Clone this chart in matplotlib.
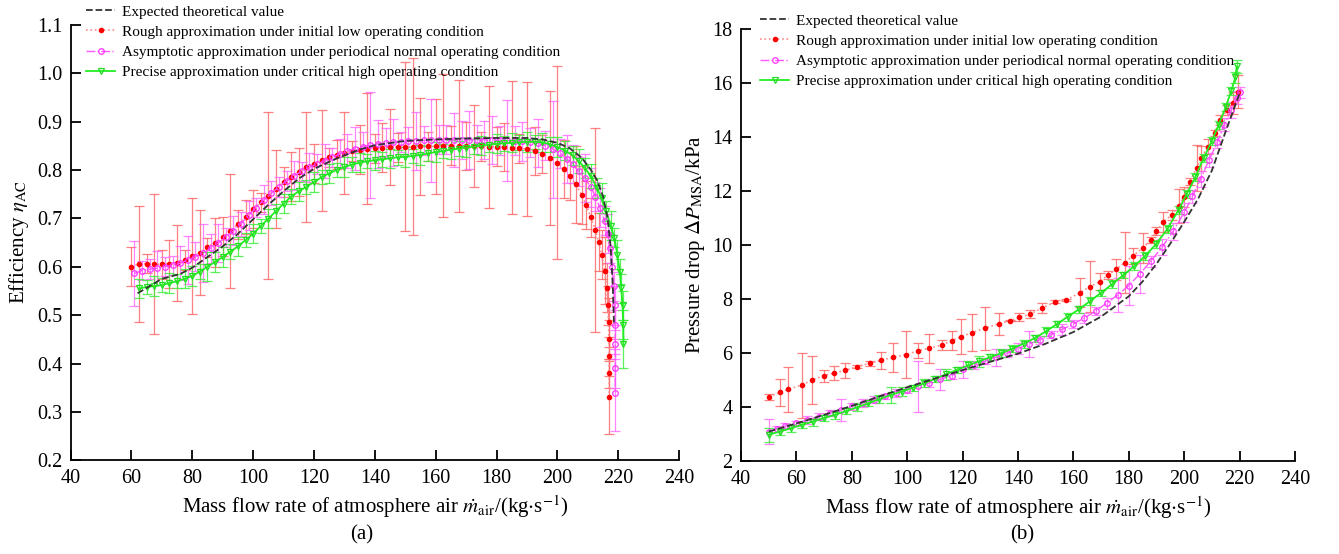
import matplotlib
matplotlib.use("Agg")
import matplotlib.pyplot as plt

plt.rcParams['font.family'] = ['Liberation Serif', 'DejaVu Serif']
plt.rcParams['mathtext.fontset'] = 'stix'

# ---------------- Panel (a): efficiency ----------------
a_theo_x = [62, 70, 76, 80, 85, 90, 95, 100, 105, 110, 115, 120, 125, 130, 135, 140, 150, 160,
            170, 180, 190, 195, 200, 204, 208, 211, 213, 215, 216.5, 217.5, 218.2, 218.6]
a_theo_y = [0.545, 0.575, 0.585, 0.598, 0.620, 0.642, 0.668, 0.698, 0.728, 0.756, 0.782, 0.802,
            0.817, 0.830, 0.842, 0.851, 0.860, 0.863, 0.865, 0.866, 0.866, 0.863, 0.856, 0.845,
            0.825, 0.800, 0.779, 0.745, 0.700, 0.640, 0.560, 0.480]

a_rough_x = [60, 62.5, 65, 67.5, 70, 72.5, 75, 77.5, 80, 82.5, 85, 87.5, 90, 92.5, 95, 97.5, 100,
             102.5, 105, 107.5, 110, 112.5, 115, 117.5, 120, 122.5, 125, 127.5, 130, 132.5, 135,
             137.5, 140, 142.5, 145, 147.5, 150, 152.5, 155, 157.5, 160, 162.5, 165, 167.5, 170,
             172.5, 175, 177.5, 180, 182.5, 185, 187.5, 190, 192.5, 195, 197.5, 200, 202, 204,
             206, 208, 209.5, 211, 212.5, 213.5, 214.5, 215.5, 216.2, 216.6, 216.8, 216.9, 217,
             217, 217]
a_rough_y = [0.600, 0.606, 0.606, 0.605, 0.605, 0.606, 0.608, 0.614, 0.622, 0.629, 0.640, 0.650,
             0.662, 0.674, 0.688, 0.702, 0.719, 0.733, 0.747, 0.761, 0.775, 0.786, 0.796, 0.806,
             0.813, 0.820, 0.826, 0.831, 0.835, 0.839, 0.842, 0.844, 0.845, 0.846, 0.847, 0.847,
             0.848, 0.848, 0.849, 0.849, 0.849, 0.850, 0.850, 0.850, 0.849, 0.849, 0.849, 0.848,
             0.848, 0.847, 0.846, 0.845, 0.843, 0.839, 0.833, 0.825, 0.815, 0.802, 0.787, 0.770,
             0.748, 0.727, 0.702, 0.676, 0.652, 0.625, 0.592, 0.557, 0.520, 0.485, 0.450, 0.415,
             0.380, 0.330]
a_rough_err = [0.04, 0.12, 0.02, 0.145, 0.03, 0.05, 0.078, 0.02, 0.12, 0.088, 0.02, 0.05, 0.04,
               0.118, 0.03, 0.035, 0.04, 0.02, 0.173, 0.08, 0.03, 0.05, 0.05, 0.113, 0.04, 0.104,
               0.02, 0.03, 0.085, 0.02, 0.05, 0.115, 0.03, 0.05, 0.079, 0.03, 0.174, 0.183, 0.10,
               0.03, 0.098, 0.148, 0.04, 0.136, 0.05, 0.085, 0.03, 0.126, 0.04, 0.05, 0.138, 0.03,
               0.138, 0.05, 0.04, 0.138, 0.20, 0.06, 0.05, 0.08, 0.06, 0.05, 0.04, 0.21, 0.06,
               0.05, 0.07, 0.05, 0.04, 0.05, 0.04, 0.04, 0.03, 0.075]

a_asym_x = [61, 63.5, 66, 68.5, 71, 73.5, 76, 78.5, 81, 83.5, 86, 88.5, 91, 93.5, 96, 98.5, 101,
            103.5, 106, 108.5, 111, 113.5, 116, 118.5, 121, 123.5, 126, 128.5, 131, 133.5, 136,
            138.5, 141, 143.5, 146, 148.5, 151, 153.5, 156, 158.5, 161, 163.5, 166, 168.5, 171,
            173.5, 176, 178.5, 181, 183.5, 186, 188.5, 191, 193.5, 196, 198.5, 201, 203, 205,
            207, 209, 211, 212.5, 214, 215.5, 216.5, 217.3, 218, 218.5, 218.8, 219, 219, 219, 219]
a_asym_y = [0.586, 0.592, 0.595, 0.597, 0.600, 0.603, 0.607, 0.614, 0.621, 0.628, 0.638, 0.649,
            0.661, 0.674, 0.689, 0.706, 0.722, 0.738, 0.752, 0.765, 0.777, 0.788, 0.797, 0.805,
            0.812, 0.819, 0.826, 0.833, 0.839, 0.844, 0.848, 0.851, 0.854, 0.856, 0.857, 0.858,
            0.859, 0.860, 0.861, 0.861, 0.862, 0.862, 0.862, 0.862, 0.862, 0.862, 0.862, 0.862,
            0.861, 0.861, 0.860, 0.859, 0.857, 0.855, 0.850, 0.843, 0.834, 0.823, 0.812, 0.797,
            0.783, 0.764, 0.745, 0.722, 0.695, 0.668, 0.638, 0.600, 0.560, 0.520, 0.480, 0.440,
            0.390, 0.340]
a_asym_err = [0.067, 0.02, 0.02, 0.035, 0.02, 0.02, 0.035, 0.05, 0.03, 0.06, 0.03, 0.04, 0.02,
              0.03, 0.025, 0.03, 0.02, 0.03, 0.025, 0.02, 0.02, 0.03, 0.02, 0.03, 0.02, 0.035,
              0.02, 0.03, 0.035, 0.045, 0.03, 0.11, 0.05, 0.03, 0.048, 0.02, 0.03, 0.06, 0.03,
              0.086, 0.03, 0.03, 0.055, 0.04, 0.06, 0.03, 0.04, 0.05, 0.03, 0.084, 0.03, 0.04,
              0.03, 0.05, 0.03, 0.10, 0.03, 0.05, 0.04, 0.03, 0.05, 0.04, 0.03, 0.04, 0.03, 0.04,
              0.03, 0.04, 0.03, 0.04, 0.03, 0.03, 0.04, 0.08]

a_prec_x = [62.5, 65, 67.5, 70, 72.5, 75, 77.5, 80, 82.5, 85, 87.5, 90, 92.5, 95, 97.5, 100,
            102.5, 105, 107.5, 110, 112.5, 115, 117.5, 120, 122.5, 125, 127.5, 130, 132.5, 135,
            137.5, 140, 142.5, 145, 147.5, 150, 152.5, 155, 157.5, 160, 162.5, 165, 167.5, 170,
            172.5, 175, 177.5, 180, 182.5, 185, 187.5, 190, 192.5, 195, 197.5, 200, 202.5, 205,
            207, 209, 211, 213, 214.5, 216, 217.5, 218.7, 219.7, 220.5, 221, 221.4, 221.6, 221.7]
a_prec_y = [0.555, 0.558, 0.560, 0.562, 0.566, 0.570, 0.575, 0.581, 0.590, 0.600, 0.610, 0.620,
            0.631, 0.642, 0.655, 0.668, 0.684, 0.699, 0.715, 0.730, 0.745, 0.756, 0.765, 0.775,
            0.785, 0.793, 0.800, 0.806, 0.811, 0.815, 0.818, 0.820, 0.822, 0.824, 0.826, 0.827,
            0.829, 0.831, 0.834, 0.837, 0.839, 0.842, 0.844, 0.846, 0.848, 0.850, 0.852, 0.854,
            0.855, 0.856, 0.857, 0.858, 0.858, 0.857, 0.853, 0.847, 0.840, 0.830, 0.818, 0.804,
            0.787, 0.763, 0.742, 0.715, 0.685, 0.660, 0.625, 0.590, 0.555, 0.520, 0.480, 0.440]
a_prec_err = [0.02, 0.015, 0.02, 0.015, 0.02, 0.015, 0.02, 0.02, 0.015, 0.03, 0.02, 0.02, 0.015,
              0.02, 0.015, 0.02, 0.015, 0.02, 0.015, 0.02, 0.015, 0.02, 0.015, 0.02, 0.015, 0.02,
              0.015, 0.02, 0.015, 0.02, 0.015, 0.02, 0.015, 0.02, 0.015, 0.02, 0.015, 0.02, 0.015,
              0.02, 0.015, 0.02, 0.015, 0.02, 0.015, 0.02, 0.015, 0.02, 0.015, 0.02, 0.015, 0.02,
              0.015, 0.02, 0.015, 0.02, 0.02, 0.02, 0.025, 0.02, 0.025, 0.02, 0.03, 0.02, 0.03,
              0.02, 0.03, 0.025, 0.03, 0.03, 0.03, 0.05]

# ---------------- Panel (b): pressure drop ----------------
b_theo_x = [50, 60, 70, 80, 90, 100, 110, 120, 130, 140, 150, 160, 170, 180, 185, 190, 195,
            200, 205, 210, 215, 220]
b_theo_y = [3.10, 3.40, 3.72, 4.05, 4.40, 4.74, 5.06, 5.37, 5.68, 5.98, 6.35, 6.78, 7.35, 8.10,
            8.65, 9.30, 10.05, 10.85, 11.70, 12.75, 14.20, 15.60]

b_rough_x = [50, 54, 57, 62, 65.5, 70, 73.5, 77.5, 82, 86.5, 90.5, 95, 99.5, 104, 108, 112.5,
             116, 119.5, 123.5, 128, 133, 137, 140.5, 144.5, 148.5, 153.5, 157.5, 162.5, 166,
             169.5, 172.5, 175.5, 178.5, 181.5, 185, 188, 190, 192.5, 195.5, 198, 200, 202,
             204.5, 206, 208.5, 211, 213, 215.5, 217.5, 219.5]
b_rough_y = [4.39, 4.55, 4.66, 4.82, 5.00, 5.17, 5.26, 5.36, 5.50, 5.63, 5.73, 5.85, 5.94, 6.09,
             6.18, 6.30, 6.46, 6.61, 6.76, 6.92, 7.08, 7.20, 7.32, 7.45, 7.66, 7.90, 7.97, 8.24,
             8.46, 8.64, 8.89, 9.10, 9.35, 9.59, 9.88, 10.18, 10.50, 10.86, 11.11, 11.44, 11.79,
             12.34, 12.84, 13.20, 13.63, 14.13, 14.62, 14.99, 15.24, 15.67]
b_rough_err = [0.11, 0.49, 0.83, 1.20, 0.89, 0.22, 0.25, 0.28, 0.06, 0.09, 0.31, 0.54, 0.86,
               0.28, 0.54, 0.18, 0.34, 0.66, 0.69, 0.79, 0.40, 0.02, 0.15, 0.15, 0.18, 0.05,
               0.04, 0.52, 0.95, 0.31, 0.15, 0.38, 1.14, 0.30, 0.55, 0.10, 0.15, 0.37, 0.18,
               0.62, 0.37, 0.12, 0.86, 0.46, 0.28, 0.12, 0.20, 0.18, 0.40, 0.60]

b_asym_x = [50, 53, 56, 60, 64, 68, 72, 76, 80, 84, 88, 92, 96, 100, 104, 108, 112, 116, 120,
            124, 128, 132, 136, 140, 144, 148, 152, 156, 160, 164, 168, 172, 176, 180, 184, 188,
            192, 196, 200, 203, 206, 209, 212, 214.5, 217, 219, 220]
b_asym_y = [3.10, 3.20, 3.30, 3.40, 3.53, 3.65, 3.78, 3.90, 4.03, 4.15, 4.28, 4.40, 4.52, 4.64,
            4.77, 4.90, 5.03, 5.17, 5.40, 5.55, 5.70, 5.85, 6.00, 6.17, 6.33, 6.50, 6.68, 6.88,
            7.08, 7.30, 7.55, 7.85, 8.15, 8.50, 8.93, 9.40, 9.92, 10.50, 11.20, 11.80, 12.45,
            13.15, 13.80, 14.45, 15.00, 15.45, 15.65]
b_asym_err = [0.46, 0.10, 0.12, 0.10, 0.15, 0.12, 0.10, 0.40, 0.12, 0.15, 0.12, 0.10, 0.15, 0.12,
              0.95, 0.15, 0.40, 0.12, 0.31, 0.15, 0.12, 0.31, 0.15, 0.20, 0.49, 0.15, 0.12, 0.20,
              0.15, 0.20, 0.15, 0.20, 0.62, 0.71, 0.71, 0.20, 0.30, 0.30, 0.35, 0.25, 0.30, 0.25,
              0.20, 0.25, 0.30, 0.25, 0.20]

b_prec_x = [50, 54, 58, 62, 66, 70, 74, 78, 82, 86, 90, 94, 98, 102, 106, 110, 114, 118, 122,
            126, 130, 134, 138, 142, 146, 150, 154, 158, 162, 166, 170, 174, 178, 182, 186, 190,
            194, 198, 201, 204, 207, 210, 212.5, 215, 217, 218.5, 219]
b_prec_y = [2.98, 3.10, 3.22, 3.35, 3.47, 3.60, 3.72, 3.86, 4.00, 4.15, 4.30, 4.45, 4.58, 4.72,
            4.88, 5.05, 5.22, 5.38, 5.55, 5.70, 5.85, 6.00, 6.17, 6.35, 6.55, 6.80, 7.07, 7.35,
            7.62, 7.92, 8.23, 8.55, 8.88, 9.22, 9.60, 10.05, 10.60, 11.30, 11.90, 12.50, 13.20,
            13.85, 14.45, 15.10, 15.70, 16.20, 16.60]
b_prec_err = [0.25, 0.12, 0.15, 0.12, 0.15, 0.12, 0.15, 0.12, 0.15, 0.12, 0.15, 0.28, 0.15, 0.12,
              0.15, 0.12, 0.20, 0.12, 0.15, 0.20, 0.12, 0.15, 0.12, 0.15, 0.12, 0.15, 0.12, 0.15,
              0.12, 0.15, 0.12, 0.15, 0.12, 0.15, 0.15, 0.15, 0.15, 0.15, 0.15, 0.15, 0.15, 0.15,
              0.15, 0.15, 0.15, 0.20, 0.25]

legend_labels = ["Expected theoretical value",
                 "Rough approximation under initial low operating condition",
                 "Asymptotic approximation under periodical normal operating condition",
                 "Precise approximation under critical high operating condition"]

RED_LINE, RED_MK, RED_ERR = '#ff8c8c', '#ff0000', '#ff6060'
MAG_LINE, MAG_MK, MAG_ERR = '#ff55ff', '#ff33ff', '#ff66ff'
GRN_LINE, GRN_MK, GRN_ERR = '#22ee22', '#22dd22', '#33ee33'
THEO = '#333333'

fig = plt.figure(figsize=(13.39, 5.54), dpi=100)
axA = fig.add_axes([0.0527, 0.1691, 0.4545, 0.7863])
axB = fig.add_axes([0.5534, 0.1673, 0.4137, 0.7811])


def draw(ax, tx, ty, rx, ry, re, mx, my, me, gx, gy, ge, cap):
    ax.errorbar(rx, ry, yerr=re, fmt='none', ecolor=RED_ERR, elinewidth=0.9,
                capsize=cap, capthick=0.9, alpha=0.8, zorder=2)
    ax.errorbar(mx, my, yerr=me, fmt='none', ecolor=MAG_ERR, elinewidth=0.9,
                capsize=cap, capthick=0.9, alpha=0.8, zorder=2)
    ax.errorbar(gx, gy, yerr=ge, fmt='none', ecolor=GRN_ERR, elinewidth=0.9,
                capsize=cap, capthick=0.9, alpha=0.8, zorder=2)
    h0, = ax.plot(tx, ty, '--', color=THEO, lw=1.3, zorder=5)
    h1, = ax.plot(rx, ry, ':', color=RED_LINE, lw=1.2, marker='o', ms=3.0,
                  mfc=RED_MK, mec=RED_MK, zorder=4)
    h2, = ax.plot(mx, my, '-.', color=MAG_LINE, lw=1.0, marker='o', ms=4.0,
                  mfc='none', mec=MAG_MK, mew=0.9, zorder=4)
    h3, = ax.plot(gx, gy, '-', color=GRN_LINE, lw=1.3, marker='v', ms=4.0,
                  mfc='none', mec=GRN_MK, mew=0.9, zorder=4)
    return [h0, h1, h2, h3]


hA = draw(axA, a_theo_x, a_theo_y, a_rough_x, a_rough_y, a_rough_err,
          a_asym_x, a_asym_y, a_asym_err, a_prec_x, a_prec_y, a_prec_err, 3.5)
hB = draw(axB, b_theo_x, b_theo_y, b_rough_x, b_rough_y, b_rough_err,
          b_asym_x, b_asym_y, b_asym_err, b_prec_x, b_prec_y, b_prec_err, 3.5)

xticks = [40, 60, 80, 100, 120, 140, 160, 180, 200, 220, 240]
a_yticks = [0.2, 0.3, 0.4, 0.5, 0.6, 0.7, 0.8, 0.9, 1.0, 1.1]
b_yticks = [2, 4, 6, 8, 10, 12, 14, 16, 18]

for ax in (axA, axB):
    ax.set_xlim(40, 240)
    ax.set_xticks(xticks)
    for s in ('top', 'right'):
        ax.spines[s].set_visible(False)
    for s in ('left', 'bottom'):
        ax.spines[s].set_linewidth(1.3)
    ax.tick_params(direction='in', length=7, width=1.3, labelsize=14.5, pad=6)
    ax.set_xlabel(r'Mass flow rate of atmosphere air $\dot{m}_{\rm air}$/(kg$\cdot$s$^{-1}$)',
                  fontsize=15, labelpad=4)

axA.set_ylim(0.2, 1.1)
axA.set_yticks(a_yticks)
axA.set_yticklabels(['0.2', '0.3', '0.4', '0.5', '0.6', '0.7', '0.8', '0.9', '1.0', '1.1'])
axA.set_ylabel(r'Efficiency $\eta_{\rm AC}$', fontsize=15, labelpad=4)

axB.set_ylim(2, 18)
axB.set_yticks(b_yticks)
axB.set_ylabel(r'Pressure drop $\Delta P_{\rm MSA}$/kPa', fontsize=15, labelpad=4)

for ax, h, anchor in ((axA, hA, (86 / 1339, 1 - 5 / 554)), (axB, hB, (760 / 1339, 1 - 14 / 554))):
    ax.legend(h, legend_labels, loc='upper left', bbox_to_anchor=anchor,
              bbox_transform=fig.transFigure, frameon=False, fontsize=11,
              handlelength=1.9, handletextpad=0.45, labelspacing=0.42,
              borderpad=0, borderaxespad=0, numpoints=1)

fig.text(362 / 1339, 1 - 535 / 554, '(a)', ha='center', va='center', fontsize=15)
fig.text(1022 / 1339, 1 - 535 / 554, '(b)', ha='center', va='center', fontsize=15)

fig.savefig('out.png', dpi=100)
